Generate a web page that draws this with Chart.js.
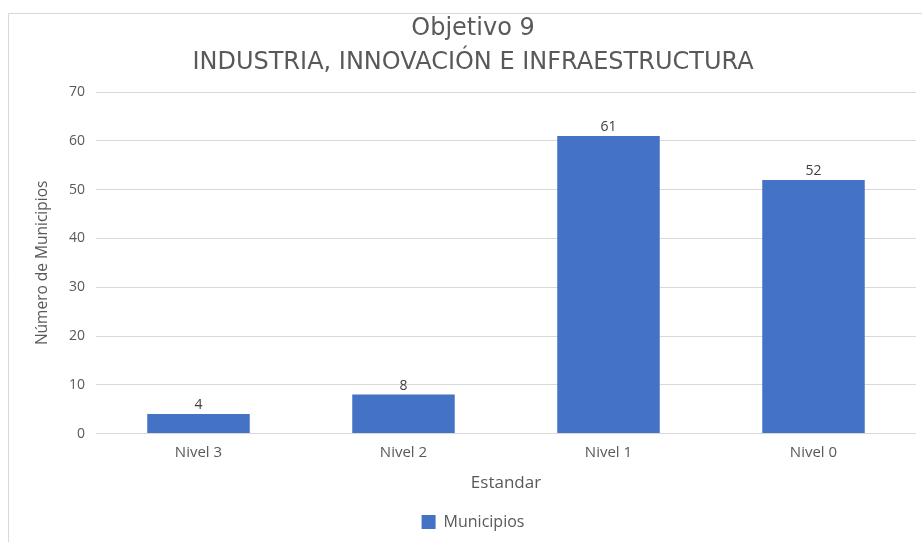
<!DOCTYPE html>
<html>
<head>
<meta charset="utf-8">
<script src="https://cdn.jsdelivr.net/npm/chart.js@4"></script>
<style>
  html, body { margin: 0; padding: 0; background: #fff; }
  #wrap { position: relative; width: 922px; height: 542px; }
</style>
</head>
<body>
<div id="wrap"><canvas id="objChart" width="922" height="542"></canvas></div>
<script>
const categories = ['Nivel 3', 'Nivel 2', 'Nivel 1', 'Nivel 0'];
const municipios = [4, 8, 61, 52];
const titleLines = ['Objetivo 9', 'INDUSTRIA, INNOVACIÓN E INFRAESTRUCTURA'];

const textGray = '#595959';
const fontFam = '"Open Sans", "Liberation Sans", sans-serif';

// frame around the chart + value labels over bars
const frameAndLabels = {
    id: 'frameAndLabels',
    beforeDraw(chart) {
        const c = chart.ctx;
        c.save();
        c.strokeStyle = '#d9d9d9';
        c.lineWidth = 1;
        c.beginPath();
        c.moveTo(8.5, 542);
        c.lineTo(8.5, 13.5);
        c.lineTo(922, 13.5);
        c.stroke();
        c.restore();
    },
    afterDatasetsDraw(chart) {
        const c = chart.ctx;
        const meta = chart.getDatasetMeta(0);
        c.save();
        c.fillStyle = '#404040';
        c.font = '14px ' + fontFam;
        c.textAlign = 'center';
        c.textBaseline = 'bottom';
        meta.data.forEach((bar, i) => {
            c.fillText(municipios[i], bar.x, bar.y - 2);
        });
        c.restore();
    }
};

const ctx = document.getElementById('objChart').getContext('2d');
const objChart = new Chart(ctx, {
    type: 'bar',
    data: {
        labels: categories,
        datasets: [
            {
                label: 'Municipios',
                data: municipios,
                backgroundColor: '#4472C4',
                borderWidth: 0,
                barPercentage: 0.5,
                categoryPercentage: 1
            }
        ]
    },
    options: {
        responsive: false,
        animation: false,
        layout: {
            padding: { left: 30, right: 6, top: 12, bottom: 2 }
        },
        plugins: {
            title: {
                display: true,
                text: titleLines,
                color: textGray,
                font: { family: '"DejaVu Sans", sans-serif', size: 24, weight: 'normal', lineHeight: 1.42 },
                padding: { top: 0, bottom: 12 }
            },
            legend: {
                position: 'bottom',
                labels: {
                    color: textGray,
                    font: { family: fontFam, size: 16 },
                    boxWidth: 14,
                    boxHeight: 14,
                    padding: 10
                }
            },
            tooltip: { enabled: false }
        },
        scales: {
            x: {
                grid: { display: false },
                border: { display: false },
                ticks: {
                    color: textGray,
                    font: { family: fontFam, size: 15 },
                    padding: 2
                },
                title: {
                    display: true,
                    text: 'Estandar',
                    color: textGray,
                    font: { family: fontFam, size: 17 },
                    padding: { top: 9, bottom: 11 }
                }
            },
            y: {
                min: 0,
                max: 70,
                ticks: {
                    stepSize: 10,
                    color: textGray,
                    font: { family: fontFam, size: 14 },
                    padding: 11
                },
                grid: { color: '#d9d9d9', drawTicks: false },
                border: { display: false },
                title: {
                    display: true,
                    text: 'Número de Municipios',
                    color: textGray,
                    font: { family: fontFam, size: 15.5 },
                    padding: { top: 3, bottom: 0 }
                },
                afterFit(scale) {
                    scale.width = 66;
                }
            }
        }
    },
    plugins: [frameAndLabels]
});
</script>
</body>
</html>
